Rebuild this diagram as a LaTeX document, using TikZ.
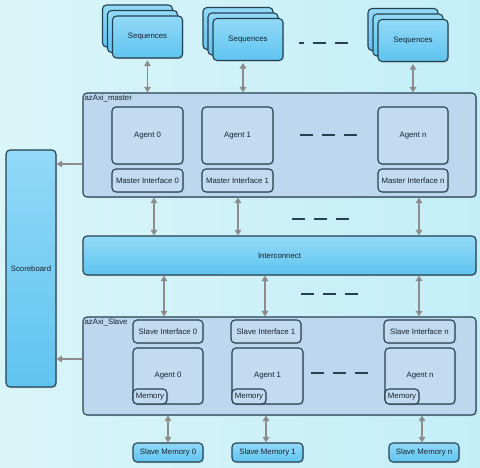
\documentclass[tikz,border=0pt]{standalone}
\usepackage{fontspec}
\setmainfont{Liberation Sans}
\usetikzlibrary{arrows.meta,shadows,calc}
\definecolor{bgA}{HTML}{DAF5F8}
\definecolor{bgB}{HTML}{C3EEF8}
\definecolor{brtop}{HTML}{92D9F8}
\definecolor{brbot}{HTML}{5FC4EF}
\definecolor{cont}{HTML}{BCD7EE}
\definecolor{inner}{HTML}{C2DBF0}
\definecolor{edge}{HTML}{25404F}
\definecolor{arrgray}{HTML}{8C8C8C}
\definecolor{txt}{HTML}{16222D}
\tikzset{
  base/.style={draw=edge, line width=1.1pt, rounded corners=4pt, font=\fontsize{7.8}{9}\selectfont, text=txt, inner sep=1pt,
    drop shadow={shadow xshift=1.2pt, shadow yshift=-1.2pt, opacity=0.25}},
  bright/.style={base, top color=brtop, bottom color=brbot},
  contbox/.style={base, fill=cont},
  innerbox/.style={base, fill=inner},
  arr/.style={draw=arrgray, line width=1.1pt, {Triangle[length=5.5pt,width=6.5pt]}-{Triangle[length=5.5pt,width=6.5pt]}},
  arrone/.style={draw=arrgray, line width=1.1pt, -{Triangle[length=5.5pt,width=6.5pt]}},
  dashline/.style={draw=edge, line width=1.1pt, dash pattern=on 13pt off 9pt},
  lbl/.style={font=\fontsize{7.8}{9}\selectfont, text=txt, inner sep=1pt, anchor=north west}
}
\begin{document}
\begin{tikzpicture}[x=1pt,y=-1pt]
\shade[left color=bgA, right color=bgB] (0,0) rectangle (480,468);
\useasboundingbox (0,0) rectangle (480,468);

% Sequences stacks
\foreach \n/\cx/\cy in {A/147.5/37, B/248/39.5, C/413/40.5}{
  \node[bright, minimum width=70pt, minimum height=42pt] (seq\n c) at (\cx-10,\cy-11) {};
  \node[bright, minimum width=70pt, minimum height=42pt] (seq\n b) at (\cx-5,\cy-5.5) {};
  \node[bright, minimum width=70pt, minimum height=42pt] (seq\n) at (\cx,\cy) {Sequences};
}

% master container
\node[contbox, minimum width=393pt, minimum height=104pt] (master) at (279.5,145) {};
\node[lbl] (masterlbl) at ([xshift=1pt,yshift=-1pt]master.north west) {azAxi\_master};
\node[innerbox, minimum width=71pt, minimum height=57pt] (ma0) at (147.5,135.5) {Agent 0};
\node[innerbox, minimum width=71pt, minimum height=57pt] (ma1) at (237.5,135.5) {Agent 1};
\node[innerbox, minimum width=70pt, minimum height=57pt] (man) at (413,135.5) {Agent n};
\node[innerbox, minimum width=71pt, minimum height=23pt] (mi0) at (147.5,180.5) {Master Interface 0};
\node[innerbox, minimum width=71pt, minimum height=23pt] (mi1) at (237.5,180.5) {Master Interface 1};
\node[innerbox, minimum width=70pt, minimum height=23pt] (min) at (413,180.5) {Master Interface n};

% scoreboard
\node[bright, minimum width=50pt, minimum height=237pt] (sb) at (31,268.5) {Scoreboard};

% interconnect
\node[bright, minimum width=393pt, minimum height=39pt] (ic) at (279.5,255.5) {Interconnect};

% slave container
\node[contbox, minimum width=393pt, minimum height=98pt] (slave) at (279.5,366) {};
\node[lbl] (slavelbl) at ([xshift=1pt,yshift=-1pt]slave.north west) {azAxi\_Slave};
\node[innerbox, minimum width=70pt, minimum height=23pt] (si0) at (168,331.5) {Slave Interface 0};
\node[innerbox, minimum width=70pt, minimum height=23pt] (si1) at (266,331.5) {Slave Interface 1};
\node[innerbox, minimum width=71pt, minimum height=23pt] (sin) at (419.5,331.5) {Slave Interface n};
\node[innerbox, minimum width=70pt, minimum height=56pt] (sa0) at (168,376) {Agent 0};
\node[innerbox, minimum width=71pt, minimum height=56pt] (sa1) at (267.5,376) {Agent 1};
\node[innerbox, minimum width=70pt, minimum height=56pt] (san) at (420,376) {Agent n};
\foreach \a in {sa0,sa1,san}{
  \node[innerbox, minimum width=34pt, minimum height=15pt, anchor=south west] (\a mem) at (\a.south west) {Memory};
}

% slave memories
\node[bright, minimum width=70pt, minimum height=19pt] (sm0) at (168,452.5) {Slave Memory 0};
\node[bright, minimum width=71pt, minimum height=19pt] (sm1) at (267.5,452.5) {Slave Memory 1};
\node[bright, minimum width=70pt, minimum height=19pt] (smn) at (424,452.5) {Slave Memory n};

% arrows sequences <-> master
\draw[arr] ([yshift=-2pt]seqA.south) -- (seqA.south |- master.north);
\draw[arr] ([xshift=-5pt,yshift=-2pt]seqB.south) -- ([xshift=-5pt]seqB.south |- master.north);
\draw[arr] ([yshift=-2pt]seqC.south) -- (seqC.south |- master.north);

% master <-> interconnect
\draw[arr] ([xshift=6.5pt]mi0.south |- master.south) -- ([xshift=6.5pt]mi0.south |- ic.north);
\draw[arr] ([xshift=0.5pt]mi1.south |- master.south) -- ([xshift=0.5pt]mi1.south |- ic.north);
\draw[arr] ([xshift=6pt]min.south |- master.south) -- ([xshift=6pt]min.south |- ic.north);

% interconnect <-> slave
\draw[arr] ([xshift=-4pt]si0.north |- ic.south) -- ([xshift=-4pt]si0.north |- slave.north);
\draw[arr] ([xshift=-1pt]si1.north |- ic.south) -- ([xshift=-1pt]si1.north |- slave.north);
\draw[arr] ([xshift=-0.5pt]sin.north |- ic.south) -- ([xshift=-0.5pt]sin.north |- slave.north);

% slave <-> slave memory
\draw[arr] (sm0.north |- slave.south) -- (sm0.north);
\draw[arr] ([xshift=-1.5pt]sm1.north |- slave.south) -- ([xshift=-1.5pt]sm1.north);
\draw[arr] ([xshift=-2pt]smn.north |- slave.south) -- ([xshift=-2pt]smn.north);

% to scoreboard
\draw[arrone] (master.west |- 0,164) -- (sb.east |- 0,164);
\draw[arrone] (slave.west |- 0,359) -- (sb.east |- 0,359);

% dashes
\coordinate (d1a) at (299,43); \coordinate (d1b) at (355,43);
\coordinate (d2a) at (300,135); \coordinate (d2b) at (363,135);
\coordinate (d3a) at (292,219); \coordinate (d3b) at (355,219);
\coordinate (d4a) at (301,294); \coordinate (d4b) at (364,294);
\coordinate (d5a) at (311,373); \coordinate (d5b) at (372,373);
\draw[dashline, dash phase=8pt] (d1a) -- (d1b);
\draw[dashline] (d2a) -- (d2b);
\draw[dashline] (d3a) -- (d3b);
\draw[dashline] (d4a) -- (d4b);
\draw[dashline] (d5a) -- (d5b);
\end{tikzpicture}
\end{document}
